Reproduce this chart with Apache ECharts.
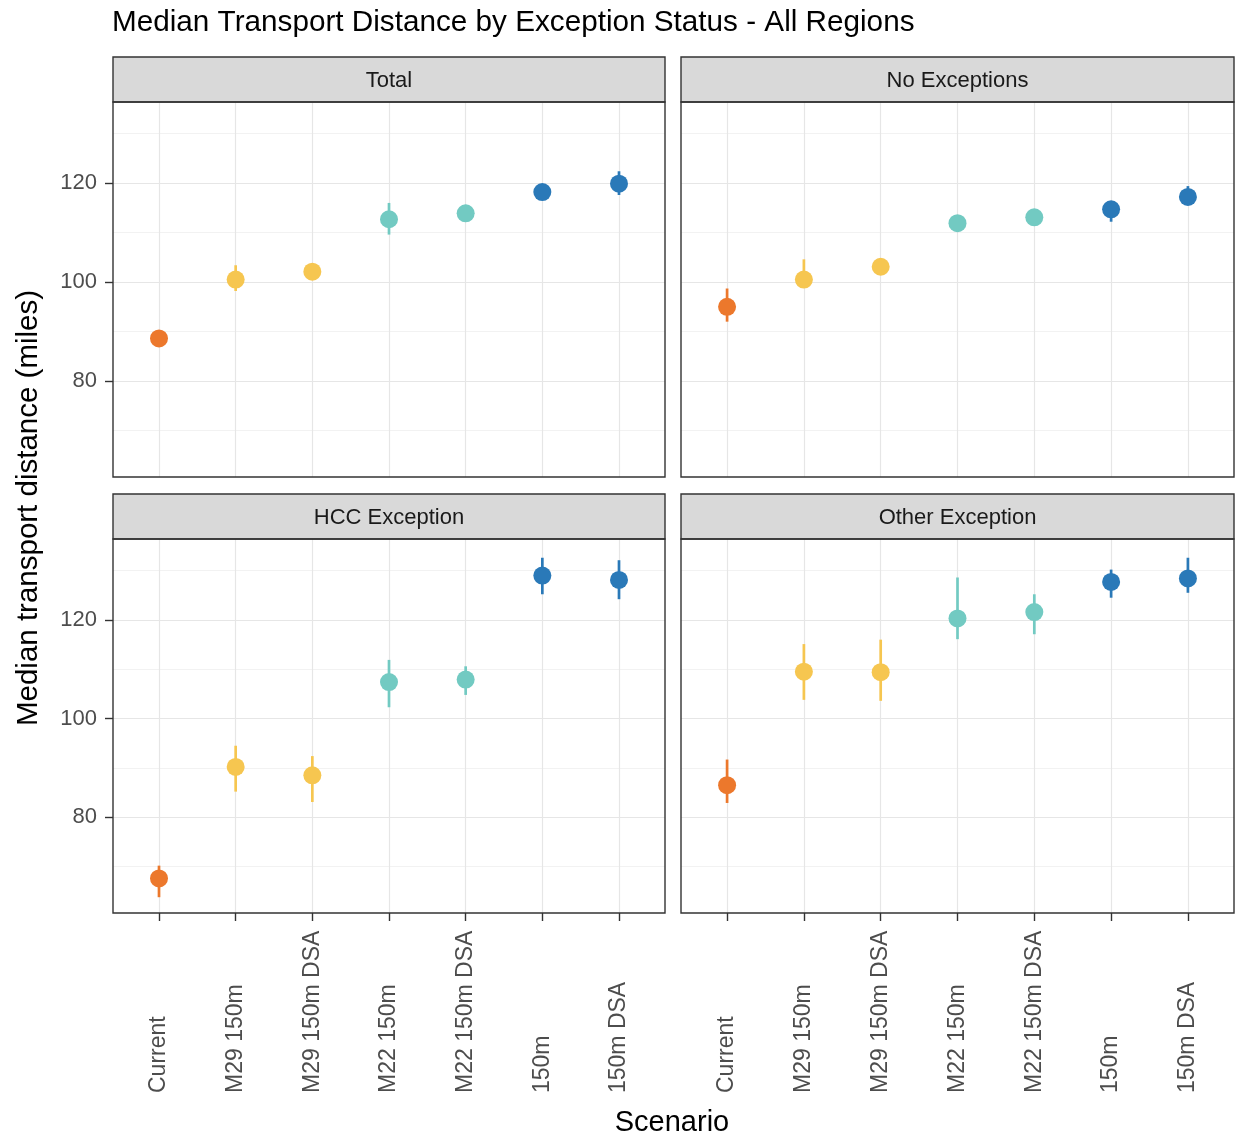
<!DOCTYPE html>
<html>
<head>
<meta charset="utf-8">
<title>Median Transport Distance by Exception Status</title>
<script src="https://cdn.jsdelivr.net/npm/echarts@6/dist/echarts.min.js"></script>
<style>
  html, body { margin: 0; padding: 0; background: #fff; }
  #chart { width: 1238px; height: 1139px; }
</style>
</head>
<body>
<div id="chart"></div>
<script>
// scenarios on the x axis, one colour per scenario
const scenarios = ['Current', 'M29 150m', 'M29 150m DSA', 'M22 150m', 'M22 150m DSA', '150m', '150m DSA'];
const scenarioColors = ['#EC782C', '#F6C650', '#F6C650', '#72CAC2', '#72CAC2', '#2A79B8', '#2A79B8'];

// facet panels
const panelNames = ['Total', 'No Exceptions', 'HCC Exception', 'Other Exception'];

// median (point) and interval (error bar) per scenario
const totalMid  = [88.6, 100.5, 102.1, 112.7, 113.9, 118.2, 119.9];
const totalLow  = [87.4, 98.2, 100.5, 109.6, 112.2, 116.6, 117.6];
const totalHigh = [89.8, 103.4, 103.7, 116.0, 115.6, 119.8, 122.4];

const noExcMid  = [95.0, 100.5, 103.1, 111.9, 113.1, 114.7, 117.2];
const noExcLow  = [92.0, 98.8, 101.5, 110.3, 111.5, 112.2, 115.6];
const noExcHigh = [98.7, 104.6, 104.7, 113.5, 114.7, 116.3, 119.4];

const hccMid  = [67.6, 90.2, 88.5, 107.4, 107.9, 129.0, 128.1];
const hccLow  = [63.8, 85.2, 83.1, 102.3, 104.8, 125.2, 124.2];
const hccHigh = [70.2, 94.5, 92.4, 111.9, 110.6, 132.6, 132.1];

const otherMid  = [86.5, 109.5, 109.4, 120.3, 121.6, 127.7, 128.4];
const otherLow  = [82.9, 103.8, 103.6, 116.1, 117.1, 124.5, 125.5];
const otherHigh = [91.7, 115.1, 116.0, 128.6, 125.2, 130.2, 132.6];

const yMajorTicks = [80, 100, 120];
const yMinorTicks = [70, 90, 110, 130];
const yMin = 60.6, yMax = 136.4;

const panels = [
  { mid: totalMid, low: totalLow, high: totalHigh },
  { mid: noExcMid, low: noExcLow, high: noExcHigh },
  { mid: hccMid, low: hccLow, high: hccHigh },
  { mid: otherMid, low: otherLow, high: otherHigh }
];

const FONT = 'Liberation Sans, Arial, Helvetica, sans-serif';
// [left, top, width, height] of each panel
const boxes = [[113, 102, 552, 375], [681, 102, 553, 375], [113, 539, 552, 374], [681, 539, 553, 374]];
const stripH = 45;
const xIdx = scenarios.map((s, k) => k);

let myChart = echarts.init(document.getElementById('chart'));

const grids = boxes.map(b => ({ left: b[0], top: b[1], width: b[2], height: b[3] }));

const xAxes = boxes.map((b, i) => ({
  type: 'value',
  gridIndex: i,
  min: -0.6,
  max: 6.6,
  axisLine: { show: false, onZero: false },
  axisTick: { show: i >= 2, customValues: xIdx, length: 8, lineStyle: { color: '#333', width: 1.4 } },
  // labels all start at the same baseline below the panel, like the original
  axisLabel: {
    show: i >= 2, customValues: xIdx, rotate: 90, margin: 180, align: 'left',
    fontSize: 23, color: '#4D4D4D', fontFamily: FONT,
    formatter: v => scenarios[Math.round(v)]
  },
  splitLine: { show: true, lineStyle: { color: '#E6E6E6', width: 1.2 } }
}));

const yAxes = [];
boxes.forEach((b, i) => {
  yAxes.push({
    type: 'value', gridIndex: i, min: yMin, max: yMax, position: 'left',
    axisLine: { show: false, onZero: false },
    axisTick: { show: i % 2 === 0, customValues: yMajorTicks, length: 8, lineStyle: { color: '#333', width: 1.4 } },
    axisLabel: { show: i % 2 === 0, customValues: yMajorTicks, margin: 16, fontSize: 22, color: '#4D4D4D', fontFamily: FONT },
    splitLine: { show: true, lineStyle: { color: '#E6E6E6', width: 1.2 } }
  });
  yAxes.push({
    type: 'value', gridIndex: i, min: yMin, max: yMax, position: 'left',
    axisLine: { show: false, onZero: false },
    axisTick: { show: false, customValues: yMinorTicks },
    axisLabel: { show: false, customValues: yMinorTicks },
    splitLine: { show: true, lineStyle: { color: '#EFEFEF', width: 0.8 } }
  });
});

const series = panels.map((p, i) => ({
  type: 'custom',
  name: panelNames[i],
  xAxisIndex: i,
  yAxisIndex: i * 2,
  encode: { x: 0, y: 1 },
  data: p.mid.map((m, k) => [k, m, p.low[k], p.high[k]]),
  renderItem: function (params, api) {
    const k = api.value(0);
    const col = scenarioColors[k];
    const lo = api.coord([k, api.value(2)]);
    const hi = api.coord([k, api.value(3)]);
    const c = api.coord([k, api.value(1)]);
    return {
      type: 'group',
      children: [
        { type: 'line', shape: { x1: lo[0], y1: lo[1], x2: hi[0], y2: hi[1] }, style: { stroke: col, lineWidth: 2.7 } },
        { type: 'circle', shape: { cx: c[0], cy: c[1], r: 9 }, style: { fill: col } }
      ]
    };
  }
}));

// strips, panel borders and titles
const graphic = [];
boxes.forEach((b, i) => {
  graphic.push({
    type: 'rect', z: 100,
    shape: { x: b[0], y: b[1] - stripH, width: b[2], height: stripH },
    style: { fill: '#D9D9D9', stroke: '#333', lineWidth: 1.4 }
  });
  graphic.push({
    type: 'text', z: 101, x: b[0] + b[2] / 2, y: b[1] - stripH / 2 + 1,
    style: { text: panelNames[i], fontSize: 22, fontFamily: FONT, fill: '#1A1A1A', align: 'center', verticalAlign: 'middle' }
  });
  graphic.push({
    type: 'rect', z: 100,
    shape: { x: b[0], y: b[1], width: b[2], height: b[3] },
    style: { fill: null, stroke: '#333', lineWidth: 1.4 }
  });
});
graphic.push({
  type: 'text', z: 101, x: 112, y: 23,
  style: { text: 'Median Transport Distance by Exception Status - All Regions', fontSize: 29.7, fontFamily: FONT, fill: '#000', align: 'left', verticalAlign: 'middle' }
});
graphic.push({
  type: 'text', z: 101, x: 29, y: 508, rotation: Math.PI / 2,
  style: { text: 'Median transport distance (miles)', fontSize: 29.5, fontFamily: FONT, fill: '#000', align: 'center', verticalAlign: 'middle' }
});
graphic.push({
  type: 'text', z: 101, x: 672, y: 1123,
  style: { text: 'Scenario', fontSize: 29, fontFamily: FONT, fill: '#000', align: 'center', verticalAlign: 'middle' }
});

let option = {
  backgroundColor: '#fff',
  animation: false,
  grid: grids,
  xAxis: xAxes,
  yAxis: yAxes,
  series: series,
  graphic: graphic
};

myChart.setOption(option);
</script>
</body>
</html>
